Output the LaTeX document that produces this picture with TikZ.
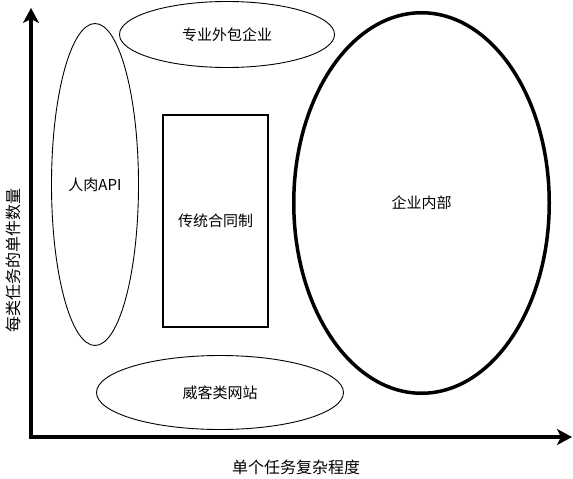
\documentclass[tikz,border=0pt]{standalone}
\usepackage{fontspec}
\setmainfont{Noto Sans CJK SC}
\usetikzlibrary{shapes.geometric,arrows.meta}

\begin{document}
\begin{tikzpicture}[x=1pt,y=-1pt]
    \pgfmathsetmacro{\axiswidth}{4}
    \pgfmathsetmacro{\thinwidth}{0.9}
    \pgfmathsetmacro{\boxwidth}{2}
    \pgfmathsetmacro{\thickwidth}{3.5}
    \providecommand{\labelfontsize}{\fontsize{15pt}{15pt}\selectfont}
    \providecommand{\axisfontsize}{\fontsize{16pt}{16pt}\selectfont}
    \tikzset{
        market/.style={ellipse,draw,inner sep=0pt,line width=\thinwidth pt,font=\labelfontsize},
        axisarrow/.style={line width=\axiswidth pt,line cap=rect,-{Stealth[length=15pt,width=16pt,inset=4pt]}}
    }
    \useasboundingbox (0,0) rectangle (573,479);
    % axes
    \coordinate (origin) at (31,437);
    \coordinate (ytop) at (31,8);
    \coordinate (xend) at (572,437);
    \draw[axisarrow] (origin) -- (ytop);
    \draw[axisarrow] (origin) -- (xend);
    \node[font=\axisfontsize,rotate=90] (ylabel) at (13,260) {每类任务的单件数量};
    \node[font=\axisfontsize] (xlabel) at (296,467) {单个任务复杂程度};
    % markets
    \node[market,minimum width=87pt,minimum height=322pt] (api) at (95,184.5) {人肉API};
    \node[market,minimum width=215pt,minimum height=66pt] (outsource) at (227,34.5) {专业外包企业};
    \node[market,minimum width=247pt,minimum height=74pt] (crowd) at (220,392.5) {威客类网站};
    \node[draw,line width=\boxwidth pt,minimum width=105pt,minimum height=212pt,inner sep=0pt,font=\labelfontsize] (contract) at (215.5,221) {传统合同制};
    \node[market,line width=\thickwidth pt,minimum width=255.5pt,minimum height=380.5pt] (inhouse) at (421.5,203) {企业内部};
\end{tikzpicture}
\end{document}
